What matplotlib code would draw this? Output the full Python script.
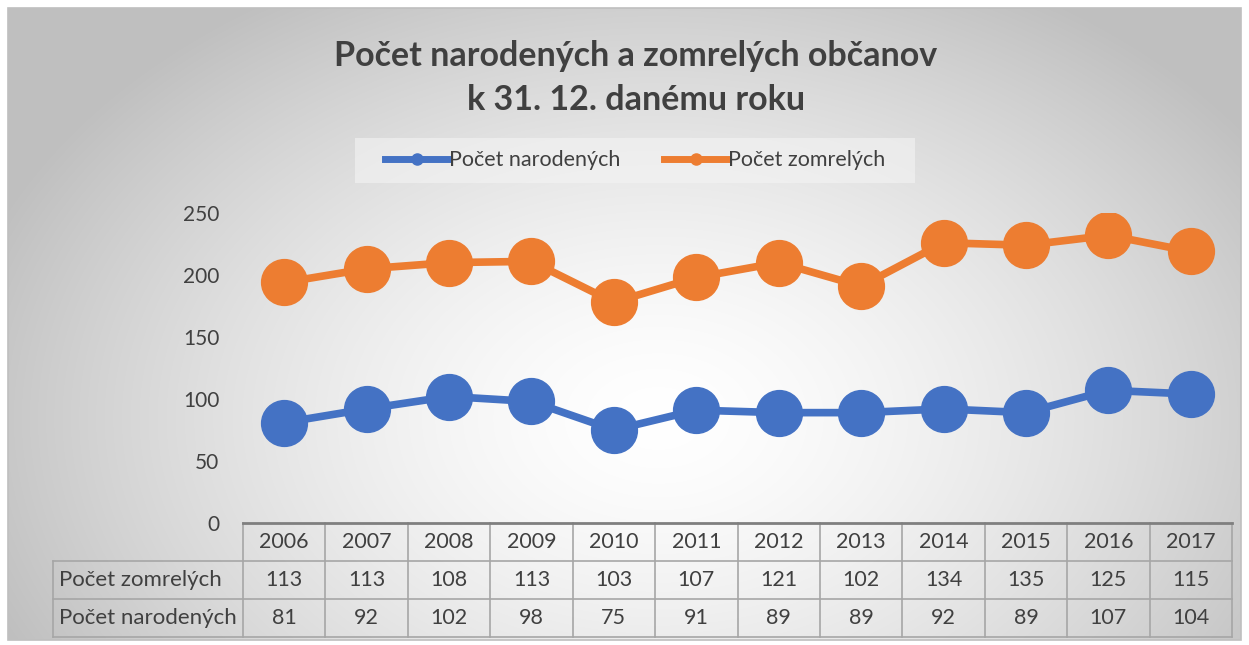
import numpy as np
import matplotlib
matplotlib.use('Agg')
import matplotlib.pyplot as plt
from matplotlib.patches import Rectangle
from matplotlib.lines import Line2D

roky = ['2006', '2007', '2008', '2009', '2010', '2011',
        '2012', '2013', '2014', '2015', '2016', '2017']
narodeni = [81, 92, 102, 98, 75, 91, 89, 89, 92, 89, 107, 104]
zomreli = [113, 113, 108, 113, 103, 107, 121, 102, 134, 135, 125, 115]

BLUE = '#4472C4'
ORANGE = '#ED7D31'
TXT = '#404040'
GRID = '#A6A6A6'

plt.rcParams['font.family'] = ['Lato', 'DejaVu Sans']

W, H = 1249, 645
fig = plt.figure(figsize=(W / 100, H / 100), dpi=100)
fig.patch.set_facecolor('white')


def fx(px):
    return px / W


def fy(py):
    # pixel row from top -> figure fraction from bottom
    return 1 - py / H


# background: radial gradient inside the chart frame
bg = fig.add_axes([fx(8), fy(640), fx(1233), 632 / H])
bg.set_axis_off()
yy, xx = np.mgrid[0:632, 0:1233]
r = np.hypot((xx - 650) / 720.0, (yy - 410) / 500.0)
shade = 1 - 0.25 * np.clip(r, 0, 1) ** 1.5
bg.imshow(np.dstack([shade] * 3), aspect='auto', extent=(0, 1, 0, 1), zorder=0)
bg.set_xlim(0, 1)
bg.set_ylim(0, 1)
bg.add_patch(Rectangle((0, 0), 1, 1, fill=False, ec='#BFBFBF', lw=1.2,
                       transform=bg.transAxes, clip_on=False))

# title
fig.text(fx(636), fy(56), 'Počet narodených a zomrelých občanov',
         ha='center', va='center', fontsize=24.5, fontweight='bold', color=TXT)
fig.text(fx(636), fy(100), 'k 31. 12. danému roku',
         ha='center', va='center', fontsize=24.5, fontweight='bold', color=TXT)

# main plot (stacked lines)
ax = fig.add_axes([fx(243), fy(523), fx(989), 310 / H])
ax.set_facecolor('none')
x = np.arange(len(roky))
spolu = np.add(narodeni, zomreli)
ax.plot(x, narodeni, color=BLUE, lw=5.5, marker='o', ms=33,
        mec=BLUE, solid_capstyle='round', zorder=3)
ax.plot(x, spolu, color=ORANGE, lw=5.5, marker='o', ms=33,
        mec=ORANGE, solid_capstyle='round', zorder=3)
ax.set_xlim(-0.5, len(roky) - 0.5)
ax.set_ylim(0, 250)
ax.set_yticks(np.arange(0, 251, 50))
ax.tick_params(axis='y', length=0, pad=17, labelsize=15, labelcolor=TXT)
ax.set_xticks([])
for s in ax.spines.values():
    s.set_visible(False)

# legend
leg_ax = fig.add_axes([fx(355), fy(183), fx(560), 45 / H])
leg_ax.set_axis_off()
leg_ax.add_patch(Rectangle((0, 0), 1, 1, transform=leg_ax.transAxes,
                           fc='#F4F4F4', ec='none', alpha=0.6))
handles = [Line2D([], [], color=BLUE, lw=5, marker='o', ms=8),
           Line2D([], [], color=ORANGE, lw=5, marker='o', ms=8)]
leg_ax.legend(handles, ['Počet narodených', 'Počet zomrelých'], loc='center',
              ncol=2, frameon=False, fontsize=15.5, handlelength=3.0,
              handletextpad=0.0, columnspacing=2.0, labelcolor=TXT)

# data table under the plot
tab = fig.add_axes([fx(243), fy(637), fx(989), 114 / H])
tab.set_axis_off()
tab.set_xlim(-0.5, len(roky) - 0.5)
tab.set_ylim(3, 0)
col_w = 989 / len(roky)
lab_w = 190 / col_w
left = -0.5 - lab_w
rows = [('Počet zomrelých', zomreli), ('Počet narodených', narodeni)]
kw = dict(clip_on=False, color=GRID, lw=1.2)

for i, rok in enumerate(roky):
    tab.text(i, 0.5, rok, ha='center', va='center', fontsize=15.5, color=TXT)
    for j, (_, vals) in enumerate(rows):
        tab.text(i, 1.5 + j, str(vals[i]), ha='center', va='center',
                 fontsize=15.5, color=TXT)
for j, (name, _) in enumerate(rows):
    tab.text(left + 0.07, 1.5 + j, name, ha='left', va='center',
             fontsize=16, color=TXT, clip_on=False)

# grid lines of the table
for k in range(len(roky) + 1):
    tab.plot([k - 0.5, k - 0.5], [0, 3], **kw)
tab.plot([left, left], [1, 3], **kw)
tab.plot([left, len(roky) - 0.5], [1, 1], **kw)
tab.plot([left, len(roky) - 0.5], [2, 2], **kw)
tab.plot([left, len(roky) - 0.5], [3, 3], **kw)
tab.plot([-0.5, len(roky) - 0.5], [0, 0], clip_on=False, color='#7F7F7F', lw=2)

fig.savefig('out.png', dpi=100)
